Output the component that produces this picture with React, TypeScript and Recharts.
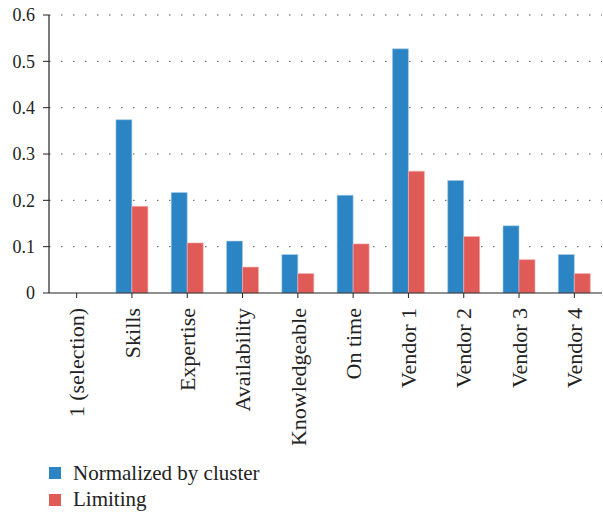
import React from 'react';
import { BarChart, Bar, XAxis, YAxis, CartesianGrid, Legend } from 'recharts';

const categories = ['1 (selection)', 'Skills', 'Expertise', 'Availability', 'Knowledgeable', 'On time', 'Vendor 1', 'Vendor 2', 'Vendor 3', 'Vendor 4'];
const normalizedByCluster = [0, 0.374, 0.217, 0.112, 0.083, 0.211, 0.527, 0.243, 0.145, 0.083];
const limiting = [0, 0.187, 0.108, 0.056, 0.042, 0.106, 0.263, 0.122, 0.072, 0.042];
const yTicks = [0, 0.1, 0.2, 0.3, 0.4, 0.5, 0.6];

const data = categories.map((name, i) => ({
    name,
    normalized: normalizedByCluster[i],
    limiting: limiting[i],
}));

const FONT = "'Times New Roman', Tinos, 'Liberation Serif', 'DejaVu Serif', Times, serif";
const BLUE = '#2b84c3';
const RED = '#e05a58';

const RotatedTick = (props: any) => {
    const { x, y, payload } = props;
    return (
        <text
            x={x}
            y={y + 8}
            dy="0.35em"
            transform={`rotate(-90, ${x}, ${y + 8})`}
            textAnchor="end"
            style={{ fontFamily: FONT }}
            fontSize={22}
            fill="#222"
        >
            {payload.value}
        </text>
    );
};

const LegendContent = () => (
    <div style={{ height: 53, paddingLeft: 49, fontFamily: FONT, fontSize: 21, color: '#222' }}>
        {[{ label: 'Normalized by cluster', color: BLUE }, { label: 'Limiting', color: RED }].map((it) => (
            <div key={it.label} style={{ height: 26.5, display: 'flex', alignItems: 'center' }}>
                <span style={{ display: 'inline-block', width: 12, height: 12, background: it.color, marginRight: 12 }} />
                <span>{it.label}</span>
            </div>
        ))}
    </div>
);

export default function App() {
    return (
        <div style={{ position: 'absolute', left: 0, top: 0, background: '#fff' }}>
            <BarChart
                width={603}
                height={513}
                data={data}
                margin={{ top: 15, right: 1, left: 0, bottom: 0 }}
                barCategoryGap="21%"
                barGap={0}
            >
                <CartesianGrid
                    vertical={false}
                    stroke="#555"
                    strokeDasharray="1.5 10.5"
                    horizontalValues={[0.1, 0.2, 0.3, 0.4, 0.5, 0.6]}
                />
                <XAxis
                    dataKey="name"
                    interval={0}
                    height={167}
                    tick={<RotatedTick />}
                    tickLine={{ stroke: '#222' }}
                    axisLine={{ stroke: '#222', strokeWidth: 1.2 }}
                    tickSize={5}
                    scale="band"
                />
                <YAxis
                    width={49}
                    domain={[0, 0.6]}
                    ticks={yTicks}
                    tickFormatter={(v: number) => String(v)}
                    tick={{ style: { fontFamily: FONT }, fontSize: 18, fill: '#222' }}
                    tickLine={{ stroke: '#222' }}
                    axisLine={{ stroke: '#222', strokeWidth: 1.2 }}
                    tickSize={6}
                    tickMargin={8}
                />
                <Legend verticalAlign="bottom" content={<LegendContent />} />
                <Bar dataKey="normalized" name="Normalized by cluster" fill={BLUE} stroke="#a9cdea" strokeWidth={0.6} isAnimationActive={false} />
                <Bar dataKey="limiting" name="Limiting" fill={RED} stroke="#f2b3b2" strokeWidth={0.6} isAnimationActive={false} />
            </BarChart>
        </div>
    );
}
